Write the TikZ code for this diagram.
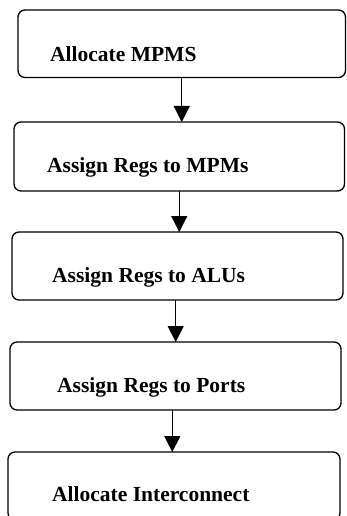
\documentclass[tikz,border=0pt]{standalone}
\usepackage{fontspec}
\setmainfont{Liberation Serif}
\usetikzlibrary{arrows.meta}
\begin{document}
\begin{tikzpicture}[x=1pt,y=1pt,
  stagebox/.style={draw=black, line width=1.3pt, rounded corners=7pt,
    inner sep=0pt, outer sep=0pt, fill=white},
  stagelabel/.style={anchor=base west, inner sep=0pt,
    font=\fontsize{21.5}{24}\selectfont\bfseries},
  flow/.style={draw=black, line width=1.2pt,
    -{Triangle[width=16pt,length=16pt]}}]
\clip (0,0) rectangle (346,-516);
\fill[white] (0,0) rectangle (346,-516);

% stage boxes
\node[stagebox, minimum width=327.5pt, minimum height=67.5pt] (b1) at (181.75,-43.75) {};
\node[stagebox, minimum width=330.5pt, minimum height=69pt]   (b2) at (179.25,-156.5) {};
\node[stagebox, minimum width=331pt,   minimum height=68pt]   (b3) at (177.5,-266) {};
\node[stagebox, minimum width=331pt,   minimum height=68pt]   (b4) at (175.5,-376) {};
\node[stagebox, minimum width=332pt,   minimum height=68pt]   (b5) at (174,-486) {};

% stage labels
\node[stagelabel] (t1) at (50,-62)  {Allocate MPMS};
\node[stagelabel] (t2) at (47,-172) {Assign Regs to MPMs};
\node[stagelabel] (t3) at (52,-282) {Assign Regs to ALUs};
\node[stagelabel] (t4) at (57,-392) {Assign Regs to Ports};
\node[stagelabel] (t5) at (52,-501) {Allocate Interconnect};

% flow between stages
\draw[flow] (b1.south) -- (b1.south |- b2.north);
\draw[flow] (b2.south) -- (b2.south |- b3.north);
\draw[flow] ([xshift=-1.8pt]b3.south) -- ([xshift=-1.8pt]b3.south |- b4.north);
\draw[flow] ([xshift=-3.2pt]b4.south) -- ([xshift=-3.2pt]b4.south |- b5.north);
\end{tikzpicture}
\end{document}
